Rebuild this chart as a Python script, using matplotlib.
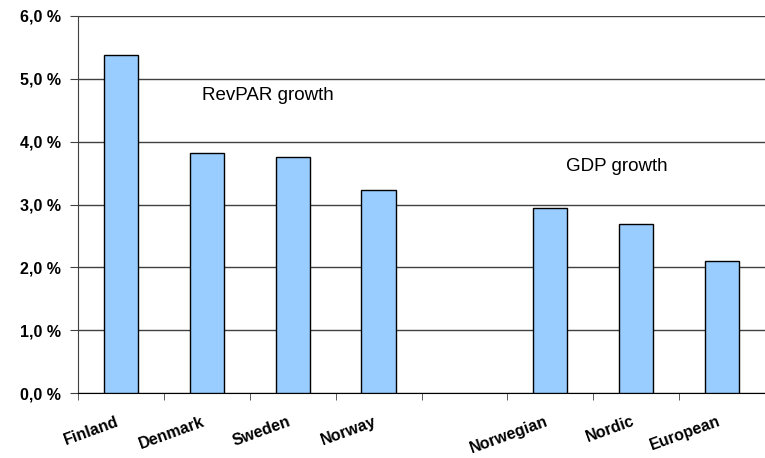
import matplotlib
matplotlib.use("Agg")
import matplotlib.pyplot as plt
import matplotlib.transforms as mtransforms
import numpy as np
from matplotlib.ticker import FuncFormatter, MultipleLocator

categories = ["Finland", "Denmark", "Sweden", "Norway", "", "Norwegian", "Nordic", "European"]
values = [5.38, 3.82, 3.75, 3.23, np.nan, 2.95, 2.69, 2.10]

plt.rcParams['font.family'] = ['Liberation Sans', 'DejaVu Sans']

fig = plt.figure(figsize=(7.65, 4.58), dpi=100)
ax = fig.add_axes([78/765, 1-393/458, 1-78/765, (393-16)/458])

x = np.arange(len(categories))
ax.bar(x, values, width=0.4, color='#99CCFF', edgecolor='black', linewidth=1.0, zorder=3)

ax.set_xlim(-0.5, len(categories) - 0.5)
ax.set_ylim(0, 6)
ax.yaxis.set_major_locator(MultipleLocator(1))
ax.yaxis.set_major_formatter(FuncFormatter(lambda v, p: f"{v:.1f}".replace('.', ',') + " %"))
ax.grid(axis='y', color='#404040', linewidth=1.0, zorder=0)

ax.set_xticks(x)
ax.set_xticklabels(categories, rotation=20, ha='right', rotation_mode='anchor',
                   fontsize=11.5, fontweight='bold')
ax.tick_params(axis='x', length=0, pad=15)
offset = mtransforms.ScaledTranslation(-5/100, 0, fig.dpi_scale_trans)
for lbl in ax.get_xticklabels():
    lbl.set_transform(lbl.get_transform() + offset)
ax.set_xticks(np.arange(-0.5, len(categories)), minor=True)
ax.tick_params(axis='x', which='minor', length=5, direction='out', color='#404040')
ax.tick_params(axis='y', length=6, direction='out', color='#404040', labelsize=11.5, pad=6)
for lbl in ax.get_yticklabels():
    lbl.set_fontweight('bold')

for s in ['top', 'right']:
    ax.spines[s].set_visible(False)
ax.spines['left'].set_color('#404040')
ax.spines['bottom'].set_color('black')

ax.text(1.71, 4.74, "RevPAR growth", fontsize=13.5, ha='center', va='center')
ax.text(5.77, 3.6, "GDP growth", fontsize=13.5, ha='center', va='center')

fig.savefig("out.png", dpi=100)
